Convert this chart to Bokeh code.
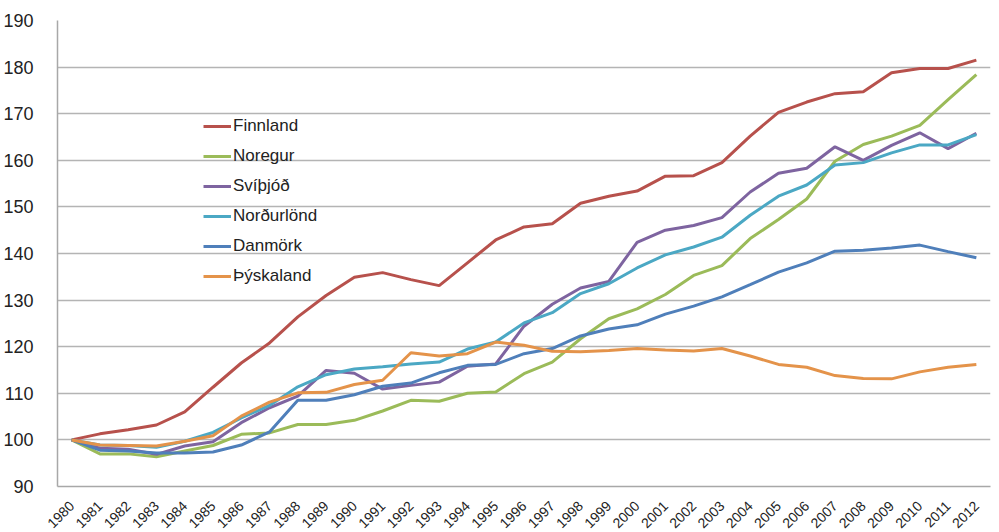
from bokeh.plotting import figure
from bokeh.models import FactorRange, Range1d, Legend, LegendItem, FixedTicker
from bokeh.embed import file_html
from bokeh.resources import INLINE
from math import pi

years = [str(y) for y in range(1980, 2013)]

finnland = [100, 101.3, 102.2, 103.2, 106.0, 111.3, 116.5, 120.8, 126.4, 131.0,
            134.9, 135.9, 134.4, 133.1, 138.0, 142.9, 145.7, 146.4, 150.8, 152.3,
            153.4, 156.6, 156.7, 159.5, 165.2, 170.3, 172.5, 174.3, 174.7, 178.8,
            179.7, 179.7, 181.5]
noregur = [100, 97.0, 97.0, 96.4, 97.6, 98.8, 101.2, 101.5, 103.3, 103.3,
           104.2, 106.2, 108.5, 108.3, 110.0, 110.3, 114.2, 116.7, 121.7, 126.0,
           128.1, 131.2, 135.3, 137.4, 143.2, 147.3, 151.7, 159.8, 163.4, 165.2,
           167.5, 173.0, 178.4]
svithjod = [100, 98.2, 98.0, 96.9, 98.7, 99.6, 103.7, 106.9, 109.4, 114.9,
            114.3, 110.9, 111.7, 112.4, 115.8, 116.3, 124.4, 129.1, 132.6, 134.0,
            142.4, 145.0, 146.0, 147.7, 153.2, 157.2, 158.3, 162.9, 160.0, 163.2,
            165.9, 162.5, 165.8]
nordurlond = [100, 98.9, 98.8, 98.4, 99.7, 101.6, 104.7, 107.4, 111.4, 114.0,
              115.2, 115.7, 116.3, 116.7, 119.5, 121.0, 125.1, 127.3, 131.4, 133.5,
              136.9, 139.7, 141.4, 143.5, 148.2, 152.3, 154.7, 159.0, 159.5, 161.6,
              163.3, 163.3, 165.5]
danmork = [100, 97.8, 97.6, 97.2, 97.2, 97.4, 98.9, 101.7, 108.5, 108.5,
           109.7, 111.5, 112.2, 114.4, 116.0, 116.2, 118.5, 119.6, 122.3, 123.8,
           124.7, 127.0, 128.7, 130.7, 133.3, 136.0, 138.0, 140.5, 140.7, 141.2,
           141.8, 140.4, 139.1]
thyskaland = [100, 98.9, 98.8, 98.7, 99.7, 100.9, 105.1, 108.1, 110.1, 110.2,
              111.9, 112.8, 118.7, 118.0, 118.5, 121.0, 120.3, 119.0, 118.9, 119.2,
              119.6, 119.3, 119.1, 119.6, 118.0, 116.2, 115.6, 113.8, 113.2, 113.1,
              114.6, 115.6, 116.2]

series_names = ["Finnland", "Noregur", "Svíþjóð", "Norðurlönd", "Danmörk", "Þýskaland"]
series_values = [finnland, noregur, svithjod, nordurlond, danmork, thyskaland]
series_colors = ["#B7514C", "#9BBB59", "#7E64A0", "#4BA8C4", "#4F7FBA", "#E4934A"]

y_ticks = list(range(90, 191, 10))

p = figure(frame_width=933, frame_height=466, output_backend="svg", toolbar_location=None,
           x_range=FactorRange(factors=years), y_range=Range1d(90, 190),
           min_border_left=49, min_border_right=1, min_border_top=20,
           min_border_bottom=30)
p.outline_line_color = None
p.background_fill_color = "white"

p.xgrid.grid_line_color = None
p.ygrid.grid_line_color = "#B4B4B4"
p.ygrid.grid_line_width = 1.5
p.yaxis.ticker = FixedTicker(ticks=y_ticks)

for ax in (p.xaxis[0], p.yaxis[0]):
    ax.axis_line_color = "#A8A8A8"
    ax.axis_line_width = 1.5
    ax.major_tick_line_color = None
    ax.minor_tick_line_color = None
    ax.major_label_text_font = "Liberation Sans"
    ax.major_label_text_color = "#222222"

p.yaxis.major_label_text_font_size = "18px"
p.yaxis.major_label_standoff = 18
p.xaxis.major_label_text_font_size = "14px"
p.xaxis.major_label_orientation = pi / 4
p.xaxis.major_label_standoff = 11

items = []
for name, vals, col in zip(series_names, series_values, series_colors):
    r = p.line(x=years, y=vals, line_color=col, line_width=3)
    items.append(LegendItem(label=name, renderers=[r]))

legend = Legend(items=items, location=(146, 200), padding=0, margin=0,
                spacing=10, glyph_width=28, glyph_height=20, label_height=20,
                label_standoff=2, label_text_font="Liberation Sans",
                label_text_font_size="17px", label_text_color="#222222",
                background_fill_alpha=0, border_line_alpha=0)
p.add_layout(legend, "center")

open("out.html", "w").write(file_html(p, INLINE))
